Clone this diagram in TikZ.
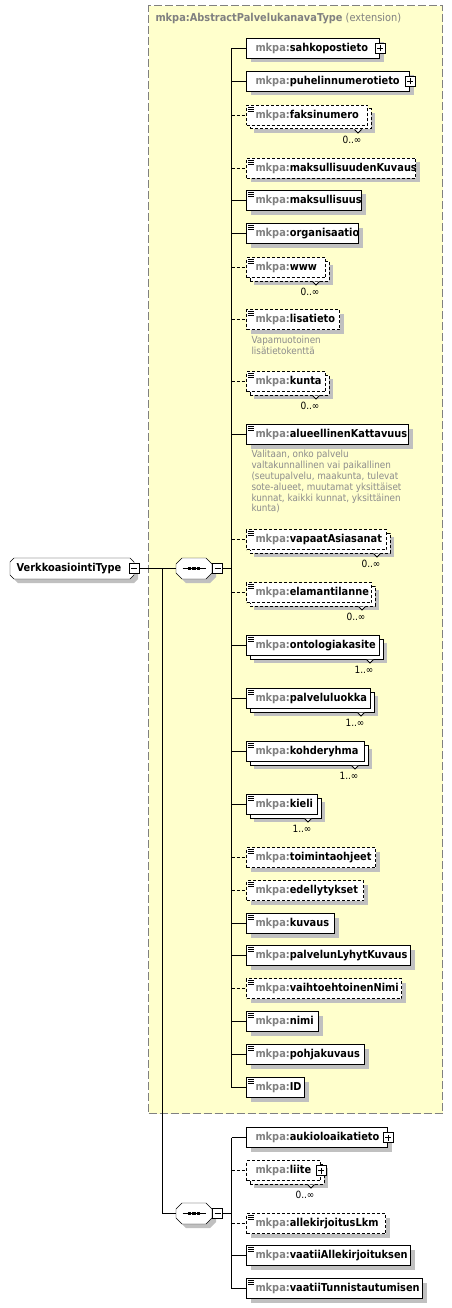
\documentclass[tikz,border=0pt]{standalone}
\usepackage{fontspec}
\usepackage{tikz}
\usetikzlibrary{
    shadows,
    backgrounds,
    positioning,
    calc
}
\newfontfamily\xsdfont{DejaVu Sans}[FakeStretch=0.9]
\definecolor{xsdyellow}{HTML}{FFFFCC}
\definecolor{xsdshadow}{HTML}{C0C0C0}
\definecolor{xsdgray}{HTML}{808080}
\definecolor{xsddoc}{HTML}{8C8C8C}
\newcommand{\elemfont}{\xsdfont\bfseries\fontsize{10.9}{13}\selectfont}
\newcommand{\docfont}{\xsdfont\fontsize{9.8}{10.8}\selectfont}
\newcommand{\occfont}{\xsdfont\fontsize{10}{12}\selectfont}
\newcommand{\mkpa}[1]{\hspace*{9pt}\mbox{\textcolor{xsdgray}{mkpa:}#1}}
\tikzset{
    % Element box
    elembox/.style={
        rectangle,
        draw=black,
        fill=white,
        anchor=north west,
        minimum height=20pt,
        inner sep=0pt,
        text width=#1,
        align=left,
        font=\elemfont
    },
    % Single occurrence
    once/.style={
        drop shadow={shadow xshift=4pt, shadow yshift=-4pt,
            fill=xsdshadow, opacity=1, draw=none}
    },
    % Repeated occurrence
    many/.style={
        drop shadow={shadow xshift=7.5pt, shadow yshift=-7.5pt,
            fill=xsdshadow, opacity=1, draw=none},
        copy shadow={shadow xshift=3.5pt, shadow yshift=-3.5pt,
            draw=black, fill=white, #1}
    },
    many/.default=solid,
    % Optional element
    optional/.style={dash pattern=on 3pt off 2pt},
    % Documentation icon
    docicon/.style={
        path picture={
            \foreach \k in {1.5pt,3.5pt,5.5pt}
                \draw[solid, line width=0.8pt]
                    ([shift={(1.5pt,-\k)}]path picture bounding box.north west) -- ++(5.5pt,0pt);
        }
    },
    % Expand / collapse boxes
    expbox/.style={
        rectangle,
        draw=black,
        fill=white,
        solid,
        minimum size=10pt,
        inner sep=0pt,
        path picture={
            \draw[line width=0.9pt] ([xshift=-3pt]path picture bounding box.center) -- ([xshift=3pt]path picture bounding box.center);
            \draw[line width=0.9pt] ([yshift=-3pt]path picture bounding box.center) -- ([yshift=3pt]path picture bounding box.center);
        }
    },
    colbox/.style={
        rectangle,
        draw=black,
        fill=white,
        minimum size=10pt,
        inner sep=0pt,
        path picture={
            \draw[line width=0.9pt] ([xshift=-3pt]path picture bounding box.center) -- ([xshift=3pt]path picture bounding box.center);
        }
    },
    % Complex type and sequence (octagon drawn behind)
    typebox/.style={
        rectangle,
        anchor=north west,
        inner sep=0pt,
        font=\elemfont
    },
    octopath/.style args={#1/#2}{
        insert path={([xshift=#2]#1.north west) -- ([xshift=-#2]#1.north east)
            -- ([yshift=-#2]#1.north east) -- ([yshift=#2]#1.south east)
            -- ([xshift=-#2]#1.south east) -- ([xshift=#2]#1.south west)
            -- ([yshift=#2]#1.south west) -- ([yshift=-#2]#1.north west) -- cycle}
    },
    octoshadow/.style={fill=xsdshadow, transform canvas={shift={(4pt,-4pt)}}},
    % Extension area
    extbox/.style={
        rectangle,
        draw=xsdgray,
        fill=xsdyellow,
        line width=1.2pt,
        dash pattern=on 8pt off 3pt,
        anchor=north west,
        inner sep=0pt
    },
    doctext/.style={anchor=north west, inner sep=0pt, align=left, font=\docfont, text=xsddoc},
    occlabel/.style={inner sep=0pt, font=\occfont, text=black},
    optline/.style={dash pattern=on 3pt off 2pt}
}
\begin{document}
\begin{tikzpicture}[x=1pt, y=-1pt, line width=1pt]
\useasboundingbox (0,0) rectangle (452,1308);

    % Extension
    \begin{scope}[on background layer]
        \node[extbox, minimum width=294pt, minimum height=1108pt] (ext) at (148,5) {};
    \end{scope}
    \node[anchor=west, inner sep=0pt, font=\xsdfont\fontsize{10.9}{13}\selectfont, text=xsdgray]
        (ext-title) at (155,19) {\textbf{mkpa:AbstractPalvelukanavaType} (extension)};

    % Root type and sequences
    \node[typebox, minimum width=123pt, minimum height=20pt] (root) at (10,558) {VerkkoasiointiType\hspace*{6pt}};
    \node[typebox, minimum width=35pt, minimum height=20pt] (seq1) at (176,558) {};
    \node[typebox, minimum width=35pt, minimum height=20pt] (seq2) at (176,1203) {};
    \begin{scope}[on background layer]
        \fill[octoshadow, octopath=root/4pt];
        \draw[fill=white, octopath=root/4pt];
        \foreach \s in {seq1, seq2} {
            \fill[octoshadow, octopath=\s/6pt];
            \draw[fill=white, octopath=\s/6pt];
            \draw ([xshift=-11.5pt]\s.center) -- ([xshift=11.5pt]\s.center);
            \foreach \d in {-4.5pt,0pt,4.5pt}
                \fill ([xshift=\d]\s.center) ++(-1.6pt,-1.6pt) rectangle ++(3.2pt,3.2pt);
        }
    \end{scope}
    \node[colbox] (root-col) at (root.east) {};
    \node[colbox, anchor=west] (seq1-col) at (seq1.east) {};
    \node[colbox, anchor=west] (seq2-col) at (seq2.east) {};

    % Elements of the extension
    \node[elembox=133, once] (sahkopostieto) at (246,38) {\mkpa{sahkopostieto}};
    \node[elembox=163, once] (puhelinnumerotieto) at (246,71) {\mkpa{puhelinnumerotieto}};
    \node[elembox=121, optional, many=optional, docicon] (faksinumero) at (246,105) {\mkpa{faksinumero}};
    \node[elembox=169, optional, once, docicon] (maksullisuudenKuvaus) at (246,158) {\mkpa{maksullisuudenKuvaus}};
    \node[elembox=115, once, docicon] (maksullisuus) at (246,190) {\mkpa{maksullisuus}};
    \node[elembox=112, once, docicon] (organisaatio) at (246,223) {\mkpa{organisaatio}};
    \node[elembox=79, optional, many=optional, docicon] (www) at (246,257) {\mkpa{www}};
    \node[elembox=93, optional, once, docicon] (lisatieto) at (246,309) {\mkpa{lisatieto}};
    \node[elembox=79, optional, many=optional, docicon] (kunta) at (246,371) {\mkpa{kunta}};
    \node[elembox=162, once, docicon] (alueellinenKattavuus) at (246,424) {\mkpa{alueellinenKattavuus}};
    \node[elembox=140, optional, many=optional, docicon] (vapaatAsiasanat) at (246,529) {\mkpa{vapaatAsiasanat}};
    \node[elembox=125, optional, many=optional, docicon] (elamantilanne) at (246,582) {\mkpa{elamantilanne}};
    \node[elembox=133, many, docicon] (ontologiakasite) at (246,635) {\mkpa{ontologiakasite}};
    \node[elembox=124, many, docicon] (palveluluokka) at (246,688) {\mkpa{palveluluokka}};
    \node[elembox=118, many, docicon] (kohderyhma) at (246,741) {\mkpa{kohderyhma}};
    \node[elembox=71, many, docicon] (kieli) at (246,794) {\mkpa{kieli}};
    \node[elembox=129, optional, once, docicon] (toimintaohjeet) at (246,847) {\mkpa{toimintaohjeet}};
    \node[elembox=117, optional, once, docicon] (edellytykset) at (246,880) {\mkpa{edellytykset}};
    \node[elembox=88, once, docicon] (kuvaus) at (246,913) {\mkpa{kuvaus}};
    \node[elembox=164, once, docicon] (palvelunLyhytKuvaus) at (246,945) {\mkpa{palvelunLyhytKuvaus}};
    \node[elembox=155, optional, once, docicon] (vaihtoehtoinenNimi) at (246,978) {\mkpa{vaihtoehtoinenNimi}};
    \node[elembox=72, once, docicon] (nimi) at (246,1011) {\mkpa{nimi}};
    \node[elembox=118, once, docicon] (pohjakuvaus) at (246,1044) {\mkpa{pohjakuvaus}};
    \node[elembox=58, once, docicon] (ID) at (246,1077) {\mkpa{ID}};

    % Elements of the second sequence
    \node[elembox=141, once] (aukioloaikatieto) at (246,1127) {\mkpa{aukioloaikatieto}};
    \node[elembox=74, optional, many=optional] (liite) at (246,1160) {\mkpa{liite}};
    \node[elembox=139, optional, once, docicon] (allekirjoitusLkm) at (246,1213) {\mkpa{allekirjoitusLkm}};
    \node[elembox=164, once, docicon] (vaatiiAllekirjoituksen) at (246,1245) {\mkpa{vaatiiAllekirjoituksen}};
    \node[elembox=176, once, docicon] (vaatiiTunnistautumisen) at (246,1278) {\mkpa{vaatiiTunnistautumisen}};

    % Expand boxes
    \foreach \n in {sahkopostieto, puhelinnumerotieto, aukioloaikatieto, liite}
        \node[expbox] (\n-exp) at (\n.east) {};

    % Occurrences
    \foreach \n/\occ in {faksinumero/0, www/0, kunta/0, vapaatAsiasanat/0, elamantilanne/0,
                         ontologiakasite/1, palveluluokka/1, kohderyhma/1, kieli/1, liite/0} {
        \draw[fill=white, line width=0.8pt] ([shift={(-13.5pt,-3.5pt)}]\n.south east) -- ++(3.5pt,-3.5pt) -- ++(3.5pt,3.5pt);
        \node[occlabel] (\n-occ) at ([shift={(-16pt,-13.5pt)}]\n.south east) {\occ..∞};
    }

    % Documentation
    \node[doctext] (lisatieto-doc) at (251,336) {Vapamuotoinen\\lisätietokenttä};
    \node[doctext] (alueellinenKattavuus-doc) at (251,450) {Valitaan, onko palvelu\\valtakunnallinen vai paikallinen\\(seutupalvelu, maakunta, tulevat\\sote-alueet, muutamat yksittäiset\\kunnat, kaikki kunnat, yksittäinen\\kunta)};

    % Connectors
    \coordinate (rs) at (162,0);
    \coordinate (sp) at (231.5,0);
    \draw (root-col.east) -- (root-col.east -| seq1.west);
    \draw (rs |- seq1.west) -- (rs |- seq2.west) -- (seq2.west);
    \draw (seq1-col.east) -- (sp |- seq1-col.east);
    \draw (seq2-col.east) -- (sp |- seq2-col.east);
    \draw (sp |- sahkopostieto.west) -- (sp |- ID.west);
    \draw (sp |- aukioloaikatieto.west) -- (sp |- vaatiiTunnistautumisen.west);
    \foreach \n in {sahkopostieto, puhelinnumerotieto, maksullisuus, organisaatio, alueellinenKattavuus,
                    ontologiakasite, palveluluokka, kohderyhma, kieli, kuvaus, palvelunLyhytKuvaus,
                    nimi, pohjakuvaus, ID, aukioloaikatieto, vaatiiAllekirjoituksen, vaatiiTunnistautumisen}
        \draw (sp |- \n.west) -- (\n.west);
    \foreach \n in {faksinumero, maksullisuudenKuvaus, www, lisatieto, kunta, vapaatAsiasanat,
                    elamantilanne, toimintaohjeet, edellytykset, vaihtoehtoinenNimi, liite, allekirjoitusLkm}
        \draw[optline] (sp |- \n.west) -- (\n.west);

\end{tikzpicture}
\end{document}
